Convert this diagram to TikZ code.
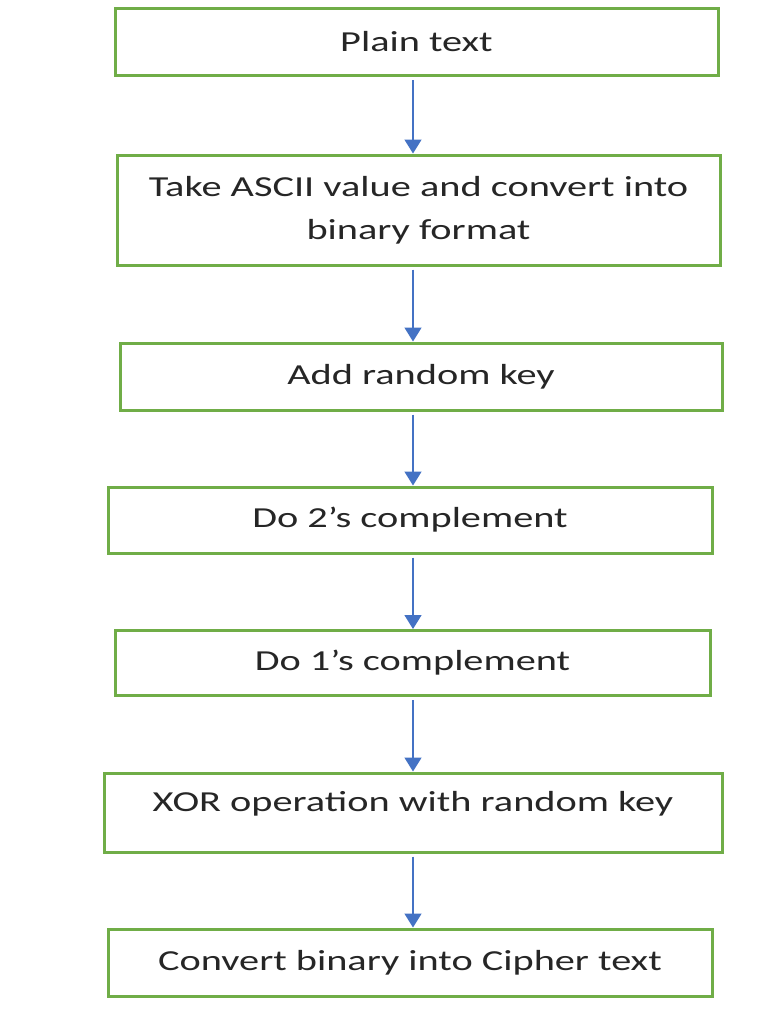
\documentclass[tikz,border=0pt]{standalone}
\usepackage{fontspec}
\setmainfont{Carlito}[FakeStretch=1.39]
\usetikzlibrary{arrows.meta}
\definecolor{boxgreen}{RGB}{112,173,71}
\definecolor{arrblue}{RGB}{68,114,196}
\definecolor{txt}{RGB}{38,38,38}
\begin{document}
\begin{tikzpicture}[x=1pt,y=-1pt,
  box/.style={draw=boxgreen,line width=3pt,rectangle,inner sep=0pt,
    text=txt,align=center,font=\fontsize{29}{43}\selectfont},
  lbl/.style={text=txt,inner sep=0pt,font=\fontsize{29}{43}\selectfont},
  flow/.style={draw=arrblue,line width=1.6pt,
    -{Triangle[length=14pt,width=17pt]},shorten <=3pt}]
\useasboundingbox (0,0) rectangle (779,1015);
\fill[white] (0,0) rectangle (779,1015);
\coordinate (ax) at (413,0);
\node[box,minimum width=603pt,minimum height=67pt] (b1) at (416.5,42) {Plain text};
\node[box,minimum width=603pt,minimum height=110pt] (b2) at (418.5,210) {Take ASCII value and convert into\\binary format};
\node[box,minimum width=602pt,minimum height=67pt] (b3) at (421,376.5) {Add random key};
\node[box,minimum width=604pt,minimum height=66pt] (b4) at (410,520) {Do 2’s complement};
\node[box,minimum width=595pt,minimum height=65pt] (b5) at (412.5,663) {Do 1’s complement};
\node[box,minimum width=618pt,minimum height=79pt] (b6) at (413,812.5) {};
\node[lbl] (t6) at (413,804) {XOR operation with random key};
\node[box,minimum width=604pt,minimum height=67pt] (b7) at (410,962.5) {Convert binary into Cipher text};
\foreach \a/\b in {b1/b2,b2/b3,b3/b4,b4/b5,b5/b6,b6/b7}
  \draw[flow] (\a.south -| ax) -- (\b.north -| ax);
\end{tikzpicture}
\end{document}
